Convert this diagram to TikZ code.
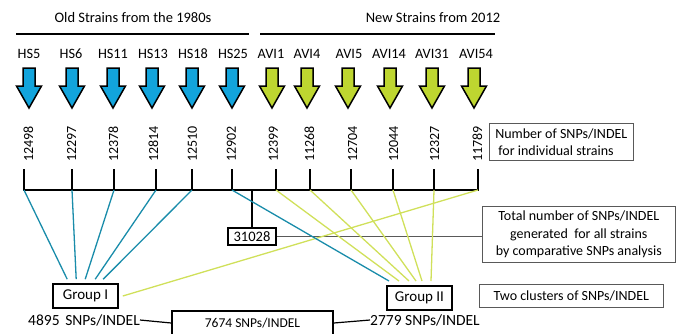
\documentclass[tikz,border=0pt]{standalone}
\usepackage{fontspec}
\setmainfont{Carlito}
\usetikzlibrary{calc}
\definecolor{arrblue}{RGB}{18,164,220}
\definecolor{arrgreen}{RGB}{190,214,48}
\definecolor{lnblue}{RGB}{25,140,170}
\definecolor{lnyellow}{RGB}{208,224,90}
\tikzset{
  hdr/.style={font=\fontsize{14.5}{16}\selectfont, inner sep=0pt},
  strain/.style={font=\fontsize{14.3}{16}\selectfont, inner sep=0pt},
  numlab/.style={font=\fontsize{14}{16}\selectfont, inner sep=0pt, rotate=90, anchor=west},
  thinbox/.style={draw=black!65, line width=0.6pt, font=\fontsize{14}{17}\selectfont, inner sep=3pt},
  grpbox/.style={draw=black, line width=1.6pt, font=\fontsize{15}{17}\selectfont, minimum width=65pt, minimum height=24pt, inner sep=0pt},
  blk/.style={line width=1.8pt, black},
  cblue/.style={lnblue, line width=1.3pt},
  cyel/.style={lnyellow, line width=1.3pt},
  bluearrow/.style={fill=arrblue, draw=black, line width=1.5pt, line join=miter},
  greenarrow/.style={fill=arrgreen, draw=black, line width=1.5pt, line join=miter},
  plain/.style={font=\fontsize{15.5}{17}\selectfont, inner sep=0pt}
}
\newcommand{\dnarrow}[2]{%
  \draw[#2] (#1-6,68) -- (#1+6,68) -- (#1+6,86) -- (#1+12.5,86) -- (#1,108) -- (#1-12.5,86) -- (#1-6,86) -- cycle;}
\begin{document}
\begin{tikzpicture}[x=1pt,y=-1pt]
\useasboundingbox (0,0) rectangle (679,333);
% headers
\node[hdr] (hold) at (133,18) {Old Strains from the 1980s};
\node[hdr] (hnew) at (433,18) {New Strains from 2012};
\coordinate (ol1) at (16,34); \coordinate (ol2) at (249,34);
\coordinate (nl1) at (260,34); \coordinate (nl2) at (495,34);
\draw[blk] (ol1) -- (ol2);
\draw[blk] (nl1) -- (nl2);
% strain labels
\node[strain] (s1) at (29,54) {HS5};
\node[strain] (s2) at (71,54) {HS6};
\node[strain] (s3) at (113,54) {HS11};
\node[strain] (s4) at (153,54) {HS13};
\node[strain] (s5) at (193,54) {HS18};
\node[strain] (s6) at (233,54) {HS25};
\node[strain] (s7) at (271,54) {AVI1};
\node[strain] (s8) at (307,54) {AVI4};
\node[strain] (s9) at (349,54) {AVI5};
\node[strain] (s10) at (389,54) {AVI14};
\node[strain] (s11) at (432,54) {AVI31};
\node[strain] (s12) at (476,54) {AVI54};
% arrows
\foreach \x in {29,72,113,152,192,232} {\dnarrow{\x}{bluearrow}}
\foreach \x in {272,307,348,390,432,474} {\dnarrow{\x}{greenarrow}}
% numbers
\foreach \x/\n/\v in {28/1/12498,71/2/12297,113/3/12378,153/4/12814,192/5/12510,231/6/12902,273/7/12399,309/8/11268,352/9/12704,393/10/12044,434/11/12327,477/12/11789}
  {\node[numlab] (n\n) at (\x+0.5,162) {\v};}
% ticks
\foreach \x/\n in {24/1,72/2,114/3,156/4,192/5,232/6,276/7,310/8,351/9,393/10,434/11,478/12}
  {\coordinate (t\n) at (\x,190); \draw[blk] (\x,169) -- (t\n);}
\draw[blk] ($(t1)+(-0.9,0)$) -- ($(t12)+(0.9,0)$);
% boxes
\node[thinbox, align=left, minimum width=144pt, minimum height=37pt, anchor=north west] (bnum) at (489,123) {Number of SNPs/INDEL\\\ for individual strains};
\node[thinbox, align=center, minimum width=193pt, minimum height=56pt, anchor=north west, font=\fontsize{14}{17.5}\selectfont] (btot) at (482,206) {Total number of SNPs/INDEL\\ generated \ for all strains\\ by comparative SNPs analysis};
\node[thinbox, minimum width=184pt, minimum height=23pt, anchor=north west] (bclu) at (479,284) {Two clusters of SNPs/INDEL};
\node[draw=black, line width=1.6pt, font=\fontsize{14.5}{16}\selectfont, minimum width=48pt, minimum height=17pt, inner sep=0pt] (tot) at (252,236.5) {31028};
\node[grpbox] (g1) at (85.5,296) {Group I};
\node[grpbox, line width=2pt] (g2) at (419.5,298) {Group II};
% total tick and pointer
\coordinate (tc) at (252,190);
\draw[blk] (tc) -- (tot.north);
\draw[black!65, line width=0.8pt] (tot.east) -- (btot.west |- tot.east);
% connectors to group I
\draw[cblue] (t1) -- ($(g1.north west)+(15,-4)$);
\draw[cblue] (t2) -- ($(g1.north west)+(24,-4)$);
\draw[cblue] (t3) -- ($(g1.north west)+(33,-4)$);
\draw[cblue] (t4) -- ($(g1.north west)+(43,-4)$);
\draw[cblue] (t5) -- ($(g1.north west)+(51,-4)$);
\draw[cyel] (t12) -- ($(g1.east)+(4,0)$);
% connectors to group II
\draw[cblue] (t6) -- ($(g2.north west)+(3,-4)$);
\draw[cyel] (t7) -- ($(g2.north west)+(13,-4)$);
\draw[cyel] (t8) -- ($(g2.north west)+(23,-4)$);
\draw[cyel] (t9) -- ($(g2.north west)+(30,-4)$);
\draw[cyel] (t10) -- ($(g2.north west)+(36,-4)$);
\draw[cyel] (t11) -- ($(g2.north west)+(45,-4)$);
% bottom
\node[draw=black, line width=1.6pt, font=\fontsize{13.5}{15}\selectfont, minimum width=161pt, minimum height=24pt, inner sep=0pt] (b7674) at (252.5,323) {7674 SNPs/INDEL};
\node[plain, anchor=west] (n4895num) at (28,320) {4895};
\node[plain, anchor=east] (n4895) at (140,320) {SNPs/INDEL};
\node[plain, anchor=west] (n2779) at (370,320) {2779 SNPs/INDEL};
\draw[black, line width=1.2pt] (n4895.east) -- (b7674.west);
\draw[black, line width=1.2pt] (b7674.east) -- (n2779.west);
\end{tikzpicture}
\end{document}
